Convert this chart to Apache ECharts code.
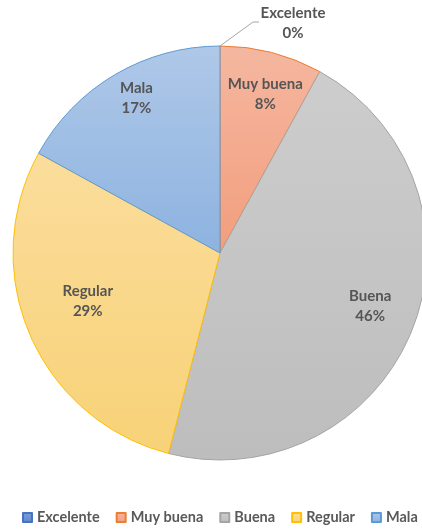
<!DOCTYPE html>
<html><head><meta charset="utf-8">
<script src="https://cdn.jsdelivr.net/npm/echarts@6/dist/echarts.min.js"></script>
<style>html,body{margin:0;padding:0;background:#fff}#c{width:422px;height:529px}</style>
</head><body><div id="c"></div>
<script>
const categories = ['Excelente', 'Muy buena', 'Buena', 'Regular', 'Mala'];
const values = [0, 8, 46, 29, 17];

const fillTop = ['#7F9FD8', '#F5B7A0', '#CDCDCD', '#FBDD9C', '#AFC8E8'];
const fillBottom = ['#5E86CC', '#F29E7D', '#BDBDBD', '#F8D277', '#8DB3E0'];
const borders = ['#4472C4', '#ED7D31', '#A5A5A5', '#FFC000', '#5B9BD5'];
const labelNudge = [[0, 0], [6, -6], [3, -5], [13, -15], [-3, -19]];

const chart = echarts.init(document.getElementById('c'));
const R = 207, CX = 220, CY = 253;
const total = values.reduce((a, b) => a + b, 0);
let cum = 0;
const data = categories.map((name, i) => {
  const mid = (cum + values[i] / 2) / total * 2 * Math.PI;
  cum += values[i];
  const f = 0.75;
  const item = {
    name, value: values[i],
    itemStyle: {
      color: new echarts.graphic.LinearGradient(0, 0, 0, 1, [
        { offset: 0, color: fillTop[i] }, { offset: 1, color: fillBottom[i] }
      ], false),
      borderColor: borders[i], borderWidth: 1
    },
    label: { position: 'inside', offset: [(f - 0.5) * R * Math.sin(mid) + labelNudge[i][0], -(f - 0.5) * R * Math.cos(mid) + labelNudge[i][1]] }
  };
  if (values[i] === 0) {
    item.label = { position: 'outside' };
    item.labelLine = { show: true };
  }
  return item;
});

chart.setOption({
  animation: false,
  legend: {
    top: 510, left: 22, width: 1000, itemGap: 16, itemWidth: 9, itemHeight: 9,
    icon: 'rect', padding: 0,
    textStyle: { color: '#595959', fontSize: 14.5, fontWeight: 'bold', fontFamily: 'Lato' },
    data: categories
  },
  series: [{
    type: 'pie',
    center: [CX, CY], radius: R,
    startAngle: 90, clockwise: true,
    data,
    label: {
      show: true,
      formatter: p => p.name + '\n' + Math.round(p.percent) + '%',
      color: '#555555', fontSize: 15, fontWeight: 'bold', fontFamily: 'Lato', lineHeight: 20, align: 'center'
    },
    labelLine: { show: false, lineStyle: { color: '#A6A6A6', width: 1 } },
    labelLayout: function (p) {
      if (p.dataIndex === 0) {
        return { x: 293, y: 23, align: 'center', verticalAlign: 'middle',
          labelLinePoints: [[CX, CY - R], [253, 22], [259, 22]] };
      }
    },
    emphasis: { disabled: true }
  }]
});
</script></body></html>
